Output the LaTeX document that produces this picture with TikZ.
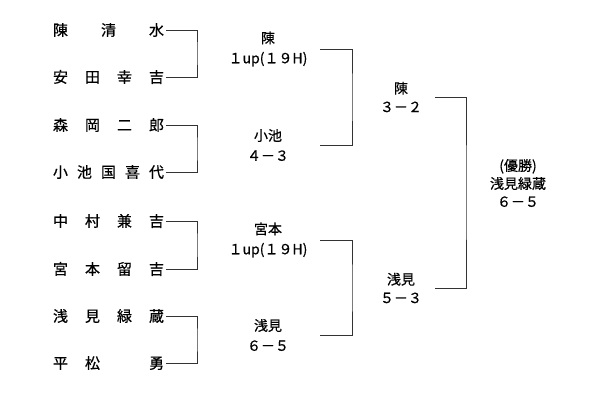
\documentclass[tikz,border=0pt]{standalone}
\usepackage{fontspec}
\setmainfont{Noto Sans CJK JP}[FakeBold=0.6,BoldFont=Noto Sans CJK JP]
\newcommand\jname[1]{\makebox[111pt][l]{#1}}
\begin{document}
\begin{tikzpicture}[x=1pt,y=-1pt,
  player/.style={anchor=west,inner sep=0pt,outer xsep=2pt,text=black,font=\fontsize{15}{15}\selectfont\bfseries},
  res/.style={align=center,inner sep=0pt,text width=104pt,text=black,font=\fontsize{14}{20}\selectfont\bfseries},
  semires/.style={res,text width=68pt,font=\fontsize{14}{18.5}\selectfont\bfseries},
  finalres/.style={res,font=\fontsize{14}{18}\selectfont\bfseries},
  wire/.style={draw=black!80,line width=1pt}]
\useasboundingbox (0,0) rectangle (600,400);
% players
\node[player] (p1) at (51,30)  {\jname{陳\hfill 清\hfill 水}};
\node[player] (p2) at (51,77)  {\jname{安\hfill 田\hfill 幸\hfill 吉}};
\node[player] (p3) at (51,125) {\jname{森\hfill 岡\hfill 二\hfill 郎}};
\node[player] (p4) at (51,172) {\jname{小\hfill 池\hfill 国\hfill 喜\hfill 代}};
\node[player] (p5) at (51,221) {\jname{中\hfill 村\hfill 兼\hfill 吉}};
\node[player] (p6) at (51,269) {\jname{宮\hfill 本\hfill 留\hfill 吉}};
\node[player] (p7) at (51,316) {\jname{浅\hfill 見\hfill 緑\hfill 蔵}};
\node[player] (p8) at (51,363) {\jname{平\hfill 松\hfill \phantom{勇}\hfill 勇}};
% junctions
\coordinate (j1) at (197,53);
\coordinate (j2) at (197,149);
\coordinate (j3) at (197,245);
\coordinate (j4) at (197,340);
\coordinate (k1) at (352,97);
\coordinate (k2) at (352,288);
\coordinate (f1) at (466,192);
% round 1 results
\node[res] (r1) at (268,49)  {陳\\１up(１９H)};
\node[res] (r2) at (268,145) {小池\\４－３};
\node[res] (r3) at (268,240) {宮本\\１up(１９H)};
\node[res] (r4) at (268,335) {浅見\\６－５};
% semi-final results
\node[semires] (s1) at (401,97)  {陳\\３－２};
\node[semires] (s2) at (401,288) {浅見\\５－３};
% final
\node[finalres] (fin) at (518,183) {(優勝)\\浅見緑蔵\\６－５};
% wires
\draw[wire] (p1.east) -| (j1) |- (p2.east);
\draw[wire] (p3.east) -| (j2) |- (p4.east);
\draw[wire] (p5.east) -| (j3) |- (p6.east);
\draw[wire] (p7.east) -| (j4) |- (p8.east);
\draw[wire] (r1.east) -| (k1) |- (r2.east);
\draw[wire] (r3.east) -| (k2) |- (r4.east);
\draw[wire] (s1.east) -| (f1) |- (s2.east);
\end{tikzpicture}
\end{document}
